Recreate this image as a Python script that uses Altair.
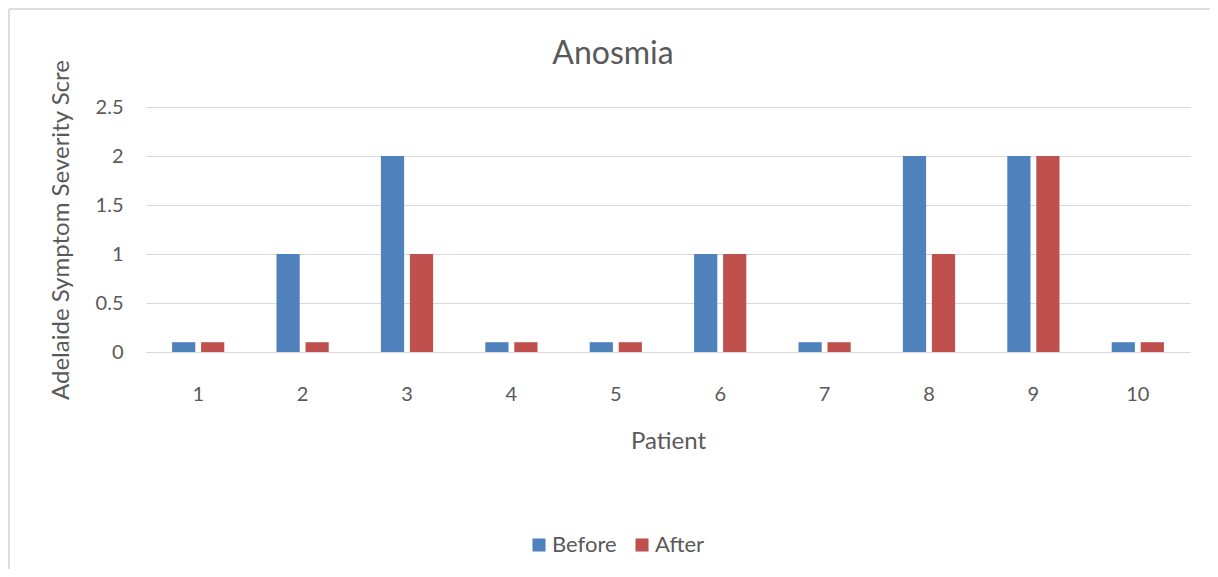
import altair as alt
import pandas as pd

patients = ["1", "2", "3", "4", "5", "6", "7", "8", "9", "10"]
before = [0.1, 1, 2, 0.1, 0.1, 1, 0.1, 2, 2, 0.1]
after = [0.1, 0.1, 1, 0.1, 0.1, 1, 0.1, 1, 2, 0.1]
series = ["Before", "After"]
colors = ["#4F81BD", "#C0504D"]

rows = []
for p, b, a in zip(patients, before, after):
    rows.append({"Patient": p, "Series": "Before", "Value": b})
    rows.append({"Patient": p, "Series": "After", "Value": a})
df = pd.DataFrame(rows)

FONT = "Lato"
GREY = "#595959"

bars = alt.Chart(df).mark_bar().encode(
    x=alt.X("Patient:N", sort=patients,
            scale=alt.Scale(paddingInner=0.5, paddingOuter=0.25),
            axis=alt.Axis(title="Patient", labelAngle=0, ticks=False,
                          domainColor="#D9D9D9", labelPadding=32,
                          labelFontSize=20, labelColor=GREY,
                          labelFont=FONT, titleFont=FONT, titleFontSize=24,
                          titleFontWeight="normal", titleColor=GREY,
                          titlePadding=25)),
    xOffset=alt.XOffset("Series:N", sort=series,
                        scale=alt.Scale(paddingInner=0.2, paddingOuter=0)),
    y=alt.Y("Value:Q", scale=alt.Scale(domain=[0, 2.5]),
            axis=alt.Axis(title="Adelaide Symptom Severity Scre",
                          values=[0, 0.5, 1, 1.5, 2, 2.5], format="~g",
                          ticks=False, domain=False, gridColor="#D9D9D9",
                          labelFontSize=20, labelColor=GREY,
                          labelPadding=23, labelFont=FONT, titleFont=FONT,
                          titleFontSize=24, titleFontWeight="normal",
                          titleColor=GREY, titlePadding=22)),
    color=alt.Color("Series:N", sort=series,
                    scale=alt.Scale(domain=series, range=colors),
                    legend=alt.Legend(title=None, orient="none",
                                      direction="horizontal",
                                      legendX=382, legendY=427,
                                      symbolType="square", symbolSize=170,
                                      symbolStrokeWidth=0,
                                      labelFontSize=22, labelFont=FONT,
                                      labelColor=GREY, columnPadding=14,
                                      labelOffset=2,
                                      symbolOpacity=1)),
)

frame_top = alt.Chart(df).mark_rule(color="#DDDDDD", strokeWidth=1.5).encode(
    x=alt.value(-137), x2=alt.value(1070), y=alt.value(-98)
)
frame_left = alt.Chart(df).mark_rule(color="#DDDDDD", strokeWidth=1.5).encode(
    x=alt.value(-137), y=alt.value(-98), y2=alt.value(480)
)

chart = alt.layer(frame_top, frame_left, bars).properties(
    width=1044,
    height=245,
    title=alt.TitleParams("Anosmia", fontSize=32, font=FONT,
                          fontWeight="normal", color=GREY,
                          anchor="middle", offset=-63, dx=-55),
    autosize=alt.AutoSizeParams(type="none"),
    padding={"left": 138, "top": 99, "right": 20, "bottom": 217},
).configure_view(stroke=None)

chart.save("out.html", embed_options={"renderer": "svg", "actions": False})
